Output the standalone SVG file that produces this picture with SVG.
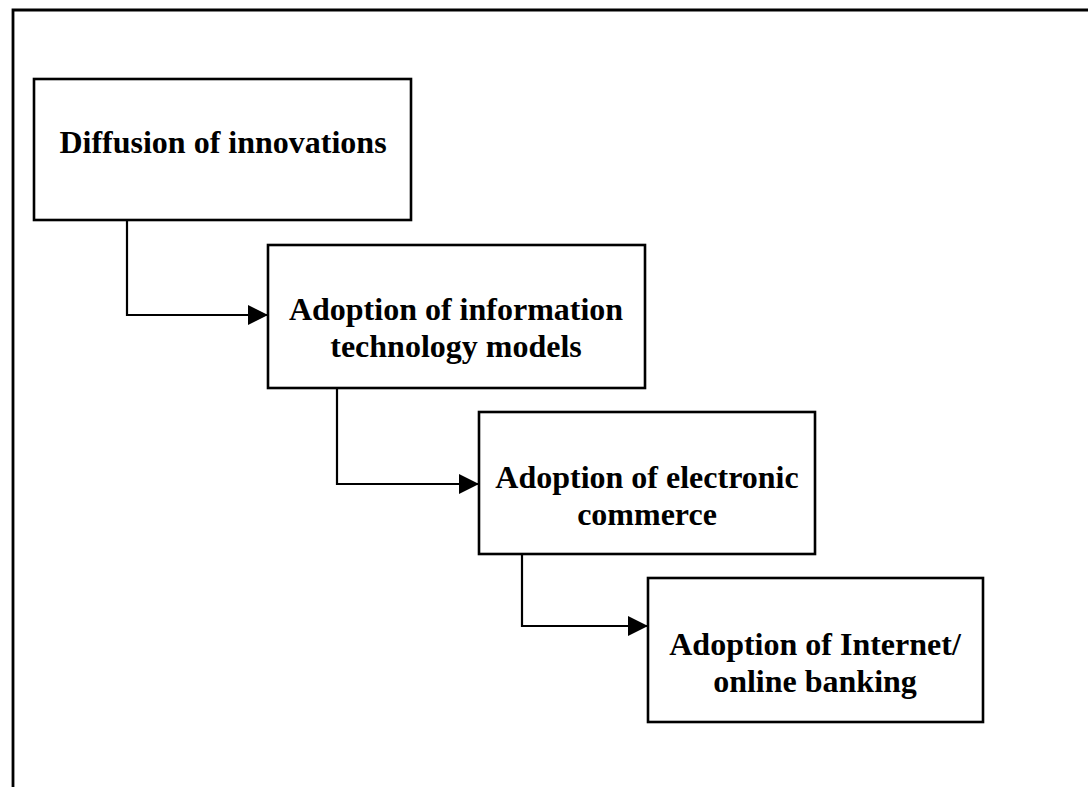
<svg xmlns="http://www.w3.org/2000/svg" width="1088" height="787" viewBox="0 0 1088 787">
  <style>
    .frame { fill: none; stroke: #000; stroke-width: 2.8; }
    .box { fill: #fff; stroke: #000; stroke-width: 2.6; }
    .link { fill: none; stroke: #000; stroke-width: 2.2; }
    .label { font-family: "Liberation Serif", "Times New Roman", serif; font-weight: bold; font-size: 32px; fill: #000; text-anchor: middle; }
  </style>
  <defs>
    <marker id="head" viewBox="0 0 20 20" refX="20" refY="10" markerWidth="20" markerHeight="20" orient="auto" markerUnits="userSpaceOnUse">
      <path d="M0,0 L20,10 L0,20 Z" fill="#000"/>
    </marker>
  </defs>

  <rect width="1088" height="787" fill="#fff"/>

  <!-- outer frame: only the top and left edges fall inside the page -->
  <path class="frame" d="M13,787 L13,10 L1088,10"/>

  <g id="connectors">
    <path class="link" d="M127,220 L127,315 L268,315" marker-end="url(#head)"/>
    <path class="link" d="M337,388 L337,484 L479,484" marker-end="url(#head)"/>
    <path class="link" d="M522,554 L522,626 L648,626" marker-end="url(#head)"/>
  </g>

  <g id="node-diffusion">
    <rect class="box" x="34" y="79" width="377" height="141"/>
    <text class="label" x="223" y="153">Diffusion of innovations</text>
  </g>

  <g id="node-it-models">
    <rect class="box" x="268" y="245" width="377" height="143"/>
    <text class="label" x="456" y="320">Adoption of information</text>
    <text class="label" x="456" y="357">technology models</text>
  </g>

  <g id="node-ecommerce">
    <rect class="box" x="479" y="412" width="336" height="142"/>
    <text class="label" x="647" y="488">Adoption of electronic</text>
    <text class="label" x="647" y="525">commerce</text>
  </g>

  <g id="node-online-banking">
    <rect class="box" x="648" y="578" width="335" height="144"/>
    <text class="label" x="815" y="655">Adoption of Internet/</text>
    <text class="label" x="815" y="692">online banking</text>
  </g>
</svg>
